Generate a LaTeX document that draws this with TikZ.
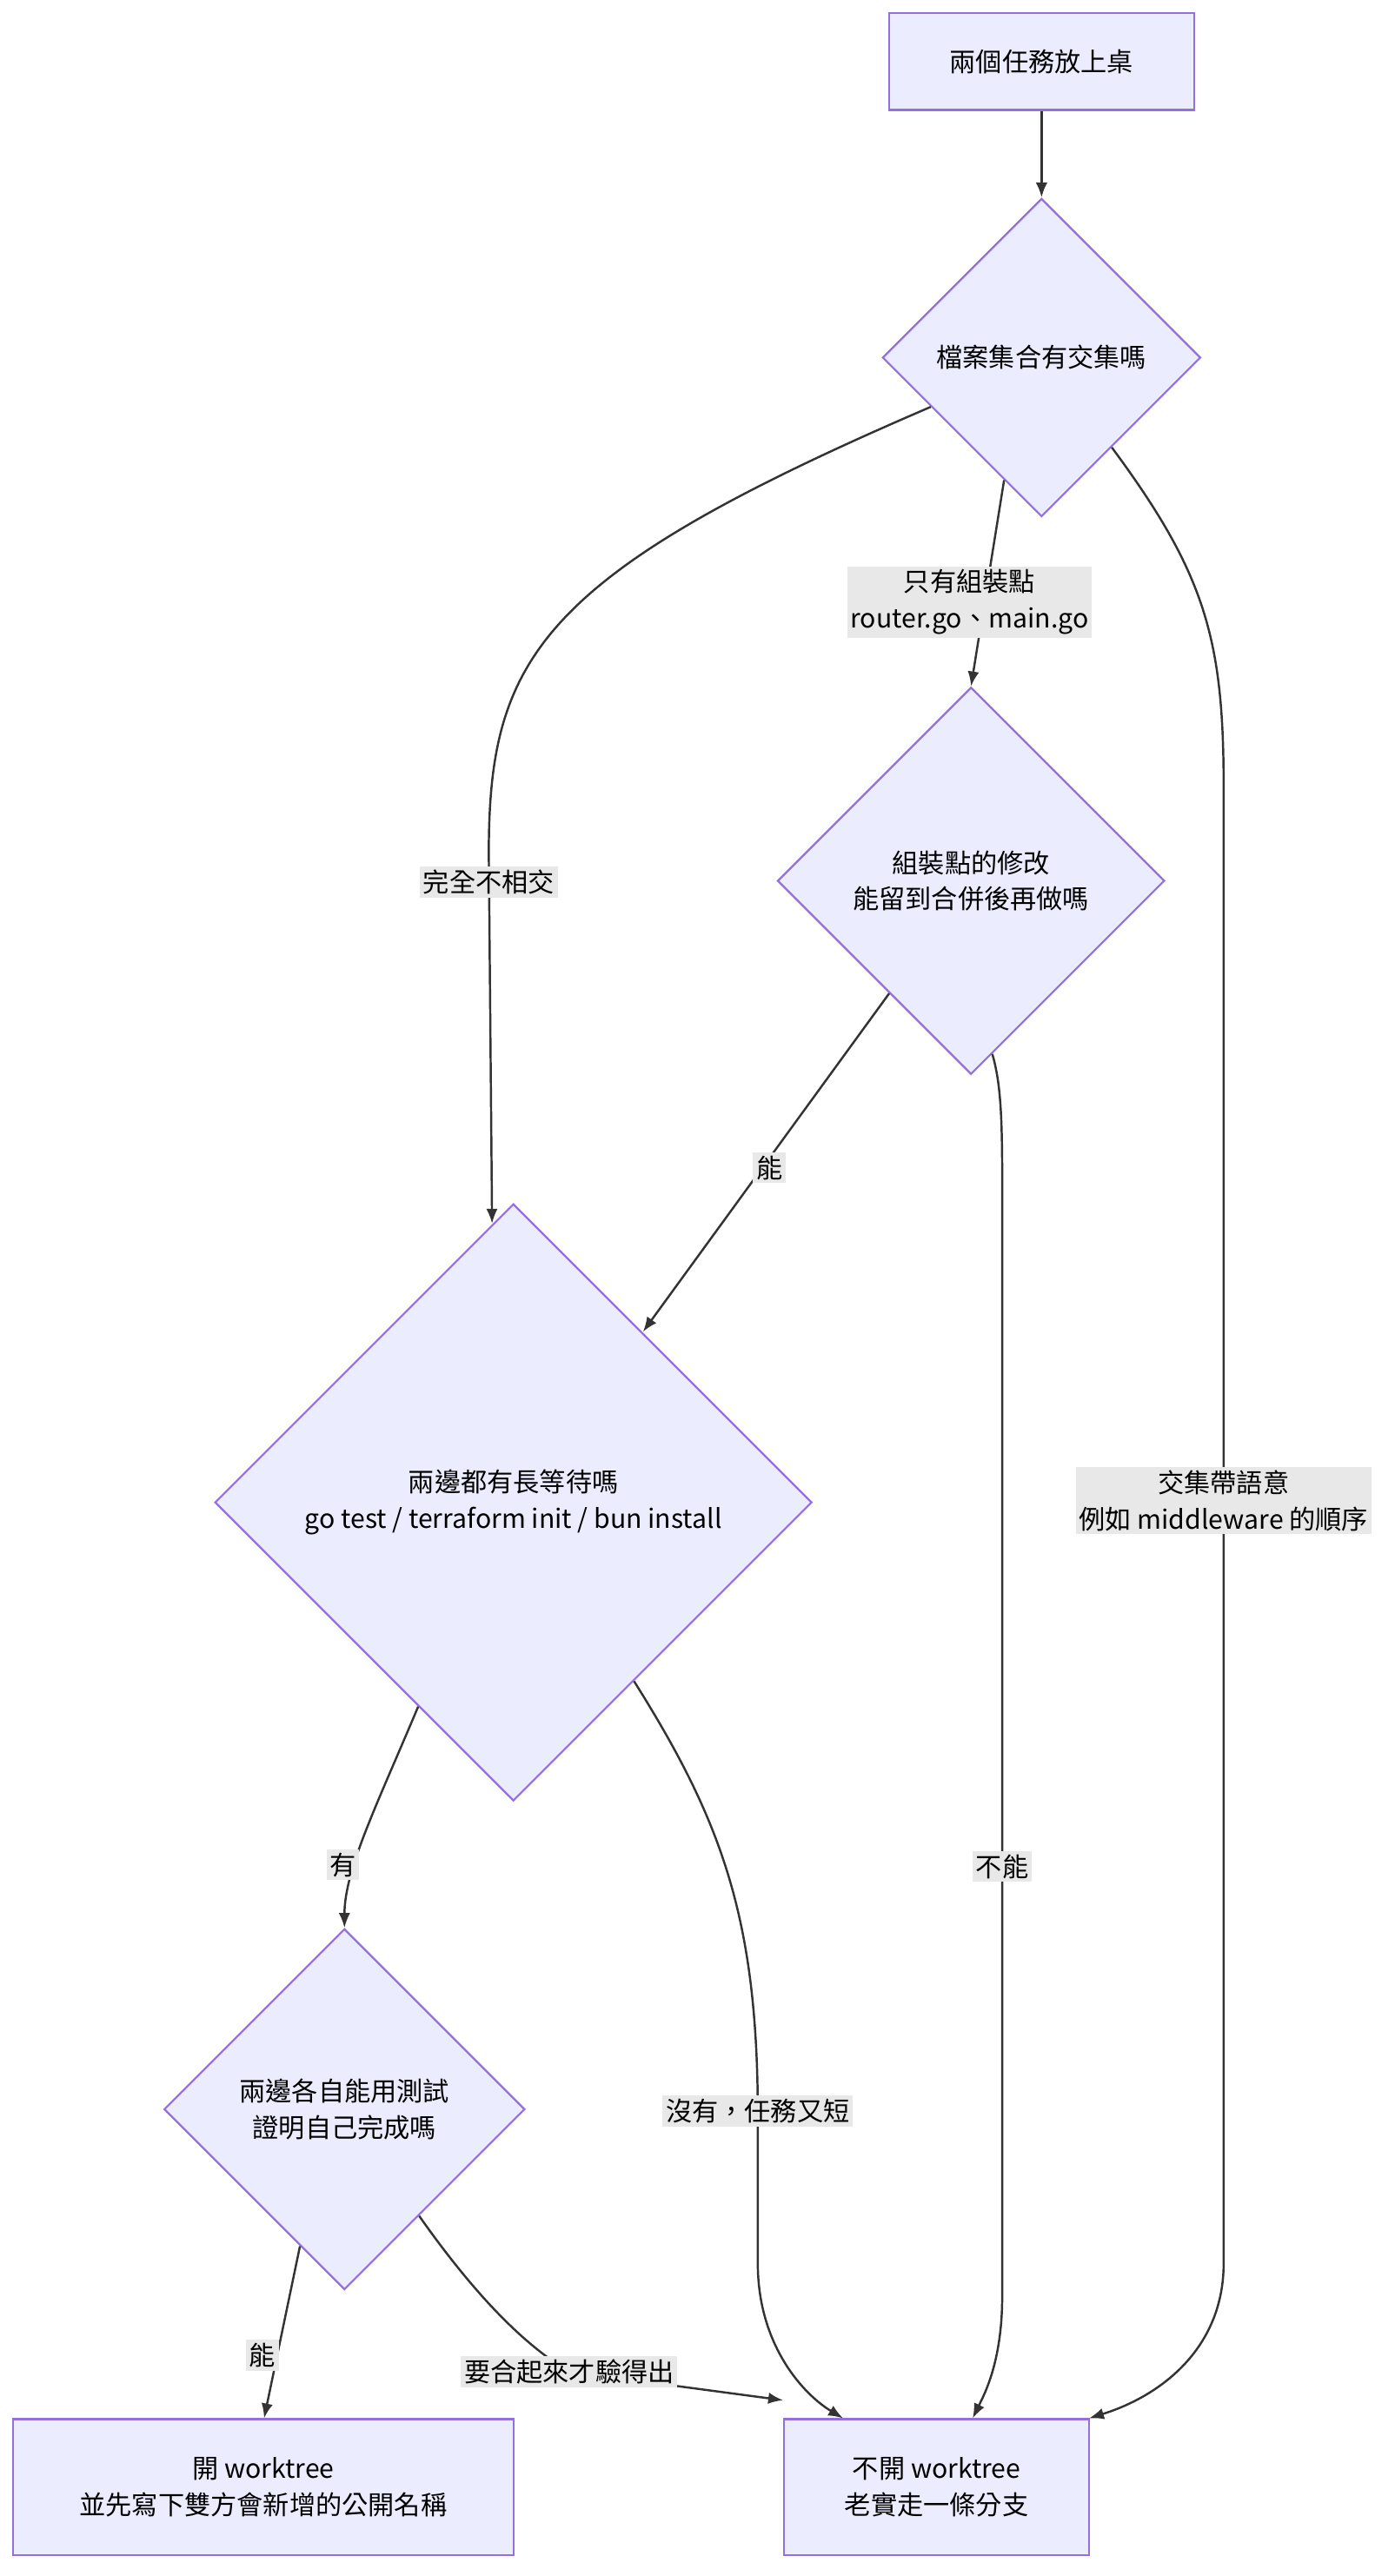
\documentclass[tikz,border=0pt]{standalone}
\usepackage{fontspec}
\newfontfamily\cjk{Noto Sans CJK TC}
\usetikzlibrary{shapes.geometric,arrows.meta}
\definecolor{nfill}{HTML}{ECECFF}
\definecolor{nline}{HTML}{9370DB}
\definecolor{eline}{HTML}{333333}
\definecolor{lbg}{HTML}{E8E8E8}
\begin{document}
\begin{tikzpicture}[x=1pt,y=-1pt,
  every node/.style={font=\cjk\fontsize{16}{22}\selectfont},
  box/.style={draw=nline,fill=nfill,line width=1.2pt,align=center,inner sep=0},
  dia/.style={diamond,draw=nline,fill=nfill,line width=1.2pt,align=center,inner sep=0,shape aspect=1},
  edge/.style={draw=eline,line width=1.3pt,-{Latex[length=9pt,width=7pt]}},
  lbl/.style={fill=lbg,align=center,inner sep=2pt}]
\useasboundingbox (0,0) rectangle (850,1570.6);
\node[box,minimum width=186,minimum height=59] (s) at (635,37.5) {兩個任務放上桌};
\node[dia,minimum size=194] (d1) at (635,218) {檔案集合有交集嗎};
\node[dia,minimum size=236] (d2) at (592,537) {組裝點的修改\\能留到合併後再做嗎};
\node[dia,minimum size=364] (d3) at (313,916) {兩邊都有長等待嗎\\go test / terraform init / bun install};
\node[dia,minimum size=220] (d4) at (210,1286) {兩邊各自能用測試\\證明自己完成嗎};
\node[box,minimum width=305,minimum height=83] (e1) at (160.5,1516.5) {開 worktree\\並先寫下雙方會新增的公開名稱};
\node[box,minimum width=186,minimum height=83] (e2) at (571,1516.5) {不開 worktree\\老實走一條分支};
\coordinate (d3in) at (300,746);
\coordinate (d3in2) at (392,812);
\draw[edge] (s) -- (d1);
\draw[edge] (d1.204) .. controls (330,350) and (298,400) .. (298,520) -- (d3in);
\node[lbl] at (298,538) {完全不相交};
\draw[edge] (d1.253) -- (d2.north);
\node[lbl] at (591,367) {只有組裝點\\router.go、main.go};
\draw[edge] (d1.308) .. controls (735,350) and (746,390) .. (746,480) -- (746,1380) .. controls (746,1430) and (710,1460) .. ([xshift=93pt]e2.north);
\node[lbl] at (746,915) {交集帶語意\\例如 middleware 的順序};
\draw[edge] (d2.234) -- (d3in2);
\node[lbl] at (469,712) {能};
\draw[edge] (d2.277) .. controls (610,660) and (611,680) .. (611,720) -- (611,1400) .. controls (611,1440) and (600,1460) .. ([xshift=22pt]e2.north);
\node[lbl] at (611,1138) {不能};
\draw[edge] (d3.245) .. controls (230,1100) and (210,1140) .. (d4.north);
\node[lbl] at (209,1137) {有};
\draw[edge] (d3.304) .. controls (440,1110) and (462,1170) .. (462,1290) -- (462,1380) .. controls (462,1430) and (490,1460) .. ([xshift=-57pt]e2.north);
\node[lbl] at (462,1287) {沒有，任務又短};
\draw[edge] (d4.252) -- ([xshift=0.5pt]e1.north);
\node[lbl] at (160,1436) {能};
\draw[edge] (d4.305) .. controls (290,1400) and (320,1430) .. (347,1446) -- ([yshift=11pt]e2.north west);
\node[lbl] at (347,1446) {要合起來才驗得出};
\end{tikzpicture}
\end{document}
